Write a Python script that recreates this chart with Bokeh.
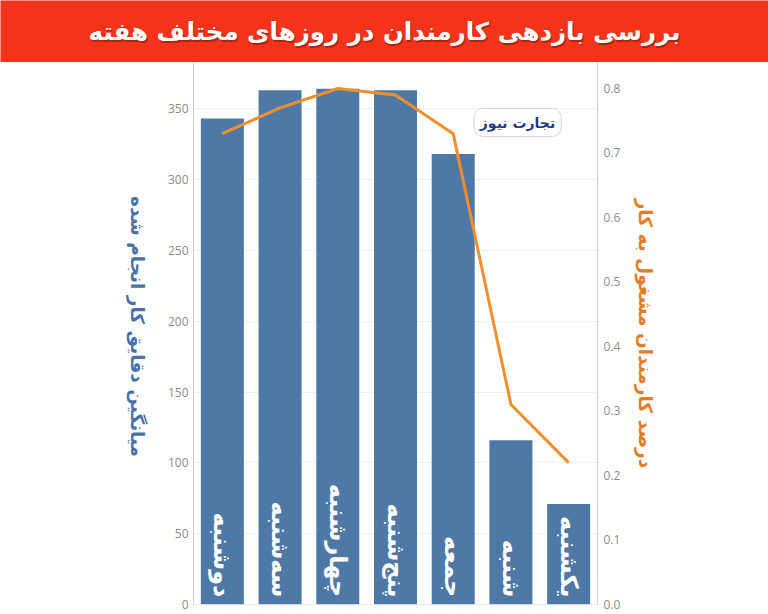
import math
from bokeh.plotting import figure
from bokeh.models import (Range1d, LinearAxis, FixedTicker, PrintfTickFormatter,
                          Label, Span, ColumnDataSource)
from bokeh.layouts import row
from bokeh.embed import file_html
from bokeh.resources import INLINE
from bokeh.core.properties import value

# ---------------- data ----------------
title_text = "بررسی بازدهی کارمندان در روزهای مختلف هفته"
days = ["دوشنبه", "سه‌شنبه", "چهارشنبه", "پنج‌شنبه", "جمعه", "شنبه", "یکشنبه"]
avg_minutes = [343, 363, 364, 363, 318, 116, 71]
pct_working = [0.73, 0.77, 0.80, 0.79, 0.73, 0.31, 0.22]
left_ticks = [0, 50, 100, 150, 200, 250, 300, 350]
right_ticks = [0.0, 0.1, 0.2, 0.3, 0.4, 0.5, 0.6, 0.7, 0.8]
left_title = "میانگین دقایق کار انجام شده"
right_title = "درصد کارمندان مشغول به کار"
logo_text = "تجارت نیوز"

# ---------------- styles ----------------
RED = "#f4331b"
BLUE = "#4e79a7"
ORANGE = "#f28e2b"
FA_FONT = "DejaVu Sans"
TICK_FONT = "Open Sans"

W = 768
HEADER_H = 62
MAIN_H = 552
SIDE_W = 150

# ---------------- header ----------------
header = figure(width=W, height=HEADER_H, x_range=Range1d(0, 1), y_range=Range1d(0, 1),
                toolbar_location=None, output_backend="svg", min_border=0)
header.axis.visible = False
header.grid.visible = False
header.background_fill_color = RED
header.border_fill_color = RED
header.outline_line_color = None
header.add_layout(Label(x=W / 2 + 1, y=HEADER_H / 2 - 2, x_units="screen", y_units="screen",
                        text=title_text, text_align="center", text_baseline="middle",
                        text_font=FA_FONT, text_font_style="bold", text_font_size="24.5px",
                        text_color="#5a1208", text_alpha=0.45))
header.add_layout(Label(x=W / 2, y=HEADER_H / 2, x_units="screen", y_units="screen",
                        text=title_text, text_align="center", text_baseline="middle",
                        text_font=FA_FONT, text_font_style="bold", text_font_size="24.5px",
                        text_color="white"))

# ---------------- left title panel ----------------
side = figure(width=SIDE_W, height=MAIN_H, x_range=Range1d(0, 1), y_range=Range1d(0, 1),
              toolbar_location=None, output_backend="svg",
              min_border_left=0, min_border_right=0, min_border_top=0, min_border_bottom=10)
side.axis.visible = False
side.grid.visible = False
side.outline_line_color = None
side.add_layout(Label(x=137, y=278, x_units="screen", y_units="screen", text=left_title,
                      angle=-math.pi / 2, text_align="center", text_baseline="middle",
                      text_font=FA_FONT, text_font_style="bold", text_font_size="18.5px",
                      text_color="#4a72a6"))

# ---------------- main chart ----------------
left_max = 382.6
right_max = 0.8403

p = figure(width=W - SIDE_W, height=MAIN_H, x_range=days, y_range=Range1d(0, left_max),
           toolbar_location=None, output_backend="svg",
           min_border_left=193 - SIDE_W, min_border_right=171, min_border_top=0, min_border_bottom=10)
p.extra_y_ranges = {"pct": Range1d(0, right_max)}
p.outline_line_color = None
p.background_fill_color = "white"
p.xaxis.visible = False
p.xgrid.visible = False
p.ygrid.ticker = FixedTicker(ticks=left_ticks)
p.ygrid.grid_line_color = "#efefef"

src = ColumnDataSource(dict(day=days, minutes=avg_minutes, pct=pct_working,
                            ly=[5] * len(days)))

p.vbar(x="day", top="minutes", width=0.745, source=src, fill_color=BLUE, line_color=None)
p.line(x="day", y="pct", source=src, y_range_name="pct", line_color=ORANGE, line_width=3)
p.text(x="day", y="ly", text="day", source=src, angle=-math.pi / 2,
       text_align="right", text_baseline="middle", text_color="white",
       text_font=value(FA_FONT), text_font_style="bold", text_font_size="24px")

ly = p.yaxis[0]
ly.ticker = FixedTicker(ticks=left_ticks)
ly.axis_line_color = "#cfcfcf"
ly.major_tick_line_color = None
ly.minor_tick_line_color = None
ly.major_tick_out = 0
ly.major_tick_in = 0
ly.minor_tick_out = 0
ly.major_label_text_color = "#8c8c8c"
ly.major_label_text_font = TICK_FONT
ly.major_label_text_font_size = "12px"
ly.major_label_standoff = 5

ry = LinearAxis(y_range_name="pct", ticker=FixedTicker(ticks=right_ticks),
                formatter=PrintfTickFormatter(format="%.1f"))
ry.axis_line_color = "#cfcfcf"
ry.major_tick_line_color = None
ry.minor_tick_line_color = None
ry.major_tick_out = 0
ry.major_tick_in = 0
ry.minor_tick_out = 0
ry.major_label_text_color = "#8c8c8c"
ry.major_label_text_font = TICK_FONT
ry.major_label_text_font_size = "12px"
ry.major_label_standoff = 6
ry.axis_label = right_title
ry.axis_label_standoff = 12
ry.axis_label_text_font = FA_FONT
ry.axis_label_text_font_style = "bold"
ry.axis_label_text_font_size = "18.5px"
ry.axis_label_text_color = "#e27c25"
p.add_layout(ry, "right")

p.add_layout(Span(location=0, dimension="width", line_color="#cfcfcf", line_width=1))

# watermark logo
p.add_layout(Label(x=324, y=482, x_units="screen", y_units="screen", text=logo_text,
                   text_align="center", text_baseline="middle",
                   text_font=FA_FONT, text_font_style="bold", text_font_size="14px",
                   text_color="#1f3c88", background_fill_color="white",
                   border_line_color="#d6d6d6", padding=6, border_radius=9))

open("out.html", "w").write(file_html([header, row(side, p)], INLINE))
